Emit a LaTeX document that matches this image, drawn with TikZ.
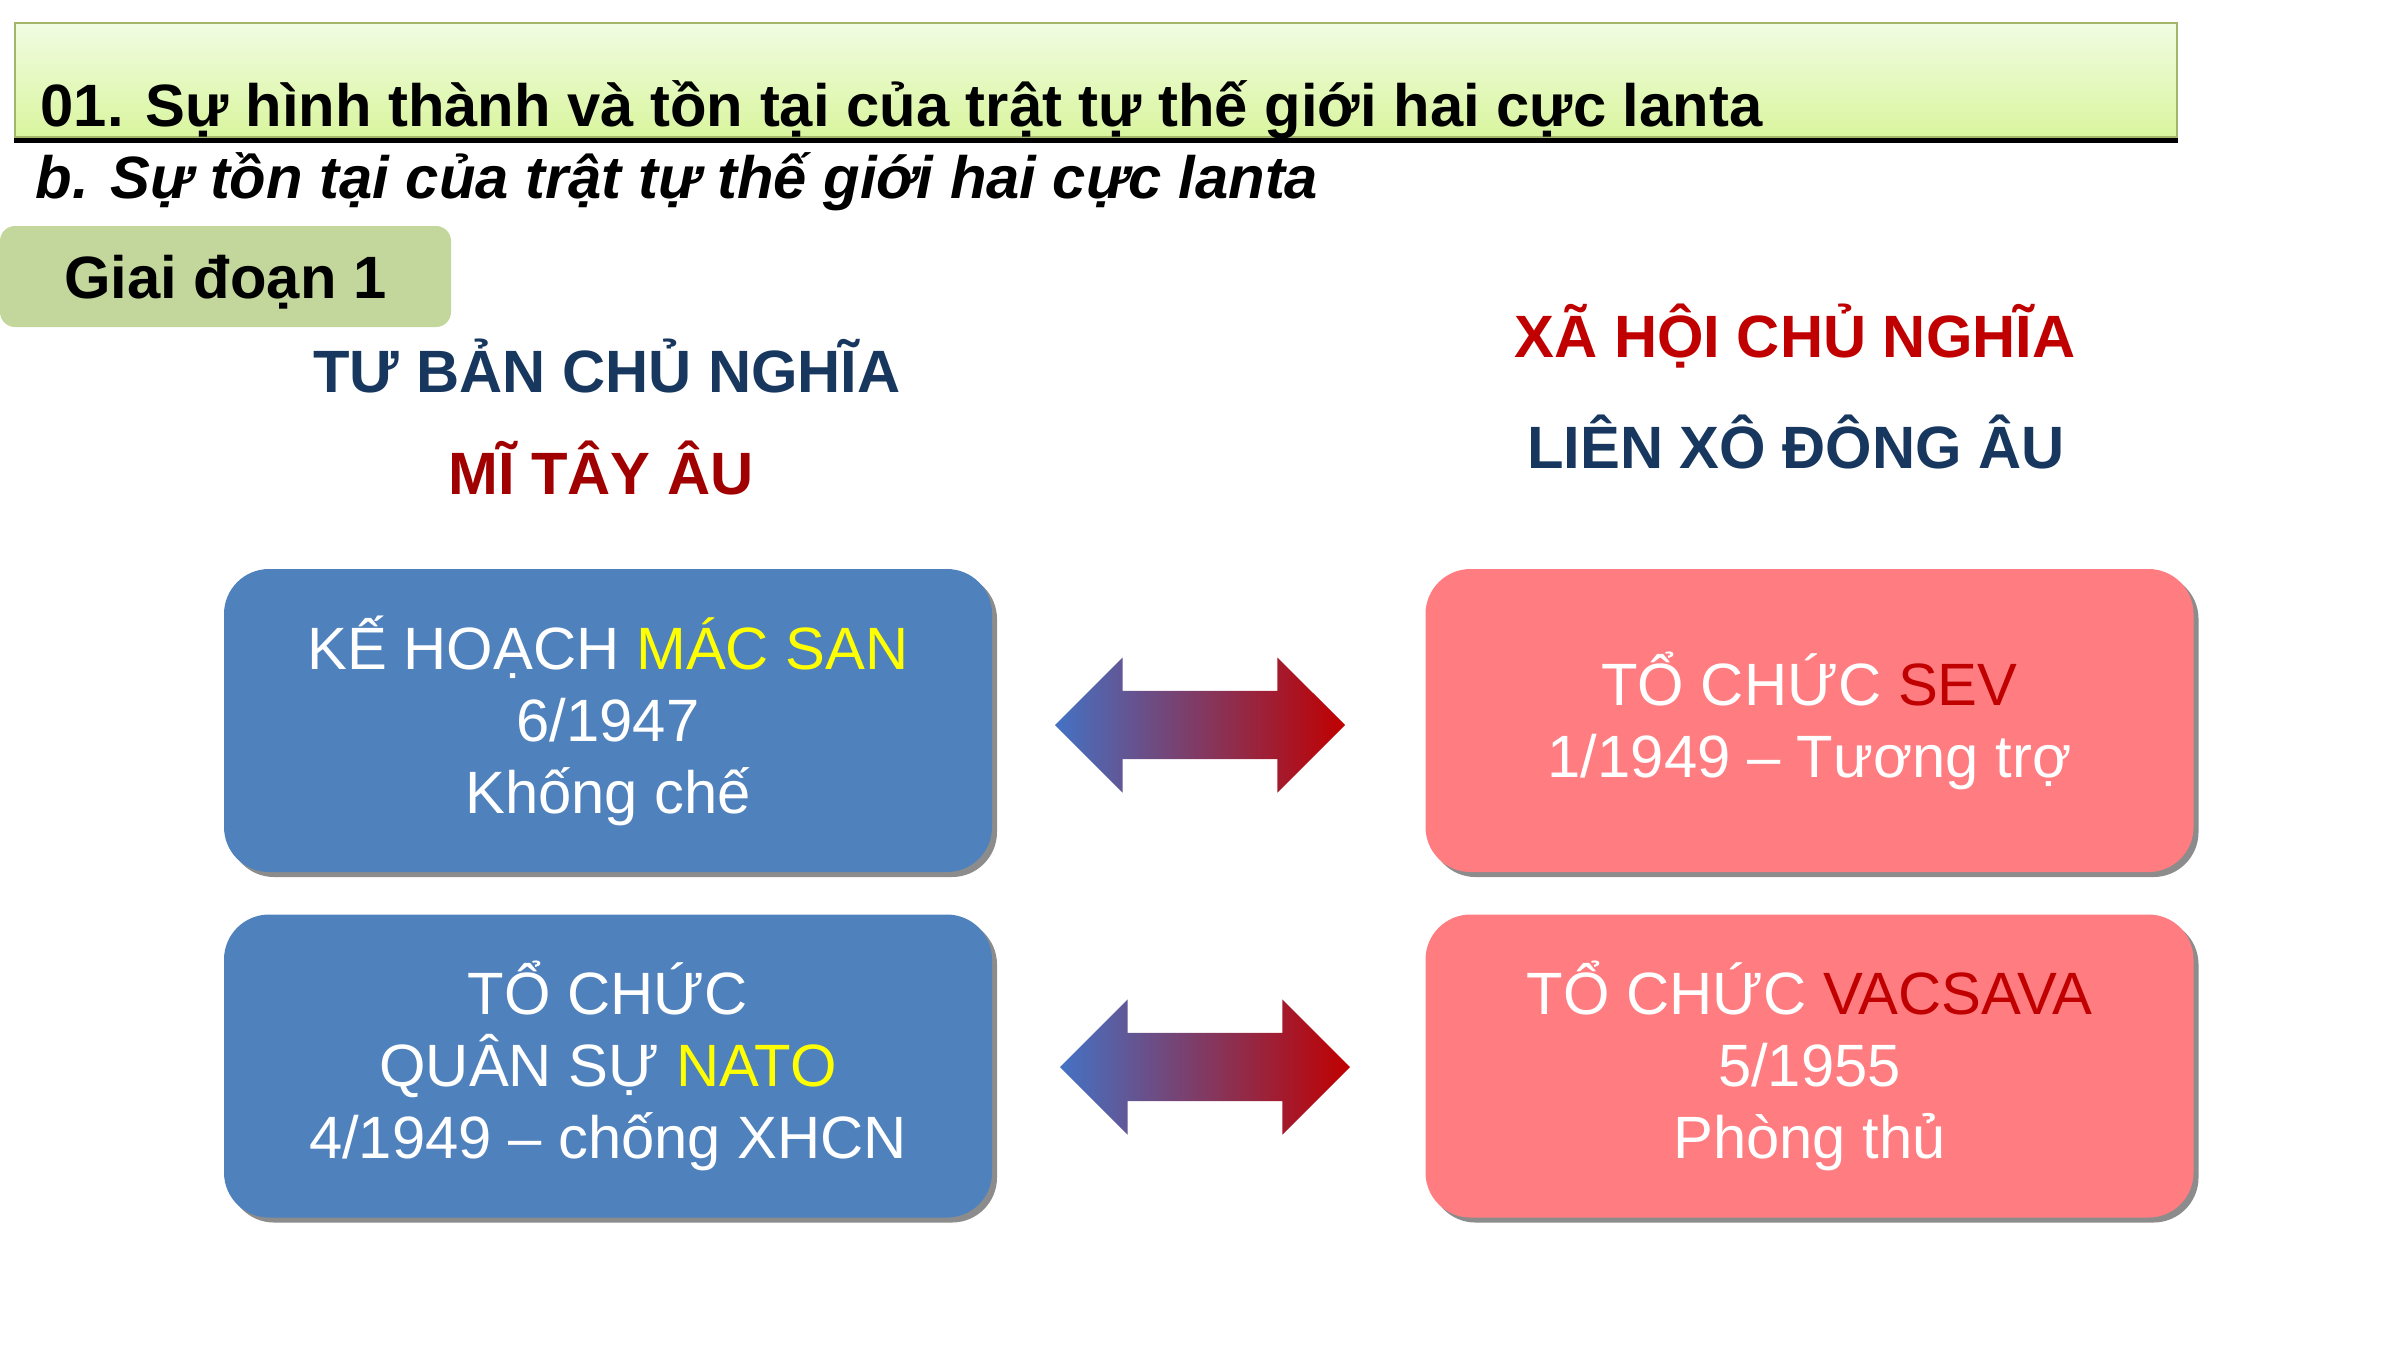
\documentclass[tikz,border=0pt]{standalone}
\usepackage{fontspec}
\setmainfont{Liberation Sans}
\usepackage{tikz}
\usetikzlibrary{positioning, shapes.arrows, shadows, calc}
\definecolor{boxBlue}{HTML}{4F81BD}
\definecolor{boxPink}{HTML}{FF7C80}
\definecolor{darkNavy}{HTML}{17375E}
\definecolor{darkRed}{HTML}{C00000}
\definecolor{deepRed}{HTML}{A00000}
\definecolor{markYellow}{HTML}{FFFF00}
\definecolor{stageGreen}{HTML}{C3D69B}
\definecolor{bannerTop}{HTML}{F1FCE2}
\definecolor{bannerBottom}{HTML}{D9F59E}
\definecolor{bannerLine}{HTML}{A4B66C}
\definecolor{arrowBlue}{HTML}{4472C4}
\tikzstyle{bannerbox} = [rectangle, draw=bannerLine, line width=0.5pt,
top color=bannerTop, bottom color=bannerBottom,
minimum width=21.62cm, minimum height=1.14cm, inner sep=0]
\tikzstyle{stagebox} = [rectangle, rounded corners=0.15cm, fill=stageGreen,
minimum width=4.51cm, minimum height=1.01cm,
text height=0.45cm, text depth=0.02cm,
font=\bfseries\fontsize{17}{20}\selectfont]
\tikzstyle{headline} = [anchor=base, inner sep=0,
font=\bfseries\fontsize{17}{20}\selectfont]
\tikzstyle{eventbox} = [rectangle, rounded corners=0.45cm,
minimum width=7.68cm, minimum height=3.03cm,
text=white, align=center, font=\fontsize{17}{20.5}\selectfont,
drop shadow={shadow xshift=0.05cm, shadow yshift=-0.05cm, fill=black!45, opacity=1}]
\tikzstyle{linkarrow} = [double arrow, minimum height=2.9cm,
inner xsep=0, inner ysep=0.335cm, double arrow head extend=0.335cm,
double arrow tip angle=90, left color=arrowBlue, right color=darkRed]

\begin{document}
\begin{tikzpicture}
	\useasboundingbox (0,0) rectangle (24,-13.5);
	%% Heading
	\node[bannerbox] (banner) at (10.96,-0.80) {};
	\draw[line width=1.2pt] ($(banner.south west)+(0,-0.025)$) -- ($(banner.south east)+(0,-0.025)$);
	\node[anchor=base west, inner sep=0, font=\bfseries\fontsize{17}{20}\selectfont] (title) at (0.40,-1.26)
    {01. Sự hình thành và tồn tại của trật tự thế giới hai cực lanta};
	\node[anchor=base west, inner sep=0, font=\bfseries\itshape\fontsize{17}{20}\selectfont] (subtitle) at (0.35,-1.98)
    {b. Sự tồn tại của trật tự thế giới hai cực lanta};
	\node[stagebox] (stage) at (2.255,-2.765) {Giai đoạn 1};
	%% Two camps
	\node[headline, text=darkNavy] (capital) at (6.07,-3.92) {TƯ BẢN CHỦ NGHĨA};
	\node[headline, text=deepRed] (west) at (6.01,-4.94) {MĨ TÂY ÂU};
	\node[headline, text=darkRed] (social) at (17.95,-3.57) {XÃ HỘI CHỦ NGHĨA};
	\node[headline, text=darkNavy] (east) at (17.96,-4.68) {LIÊN XÔ ĐÔNG ÂU};
	%% Boxes
	\node[eventbox, fill=boxBlue] (marshall) at (6.08,-7.205)
    {KẾ HOẠCH \textcolor{markYellow}{MÁC SAN}\\6/1947\\Khống chế};
	\node[eventbox, fill=boxBlue] (nato) at (6.08,-10.66)
    {TỔ CHỨC\\QUÂN SỰ \textcolor{markYellow}{NATO}\\4/1949 – chống XHCN};
	\node[eventbox, fill=boxPink] (sev) at (18.095,-7.205)
    {TỔ CHỨC \textcolor{darkRed}{SEV}\\1/1949 – Tương trợ};
	\node[eventbox, fill=boxPink] (warsaw) at (18.095,-10.66)
    {TỔ CHỨC \textcolor{darkRed}{VACSAVA}\\5/1955\\Phòng thủ};
	%% Arrows between
	\node[linkarrow] (planlink) at (12.00,-7.25) {};
	\node[linkarrow] (pactlink) at (12.05,-10.67) {};
\end{tikzpicture}
\end{document}
